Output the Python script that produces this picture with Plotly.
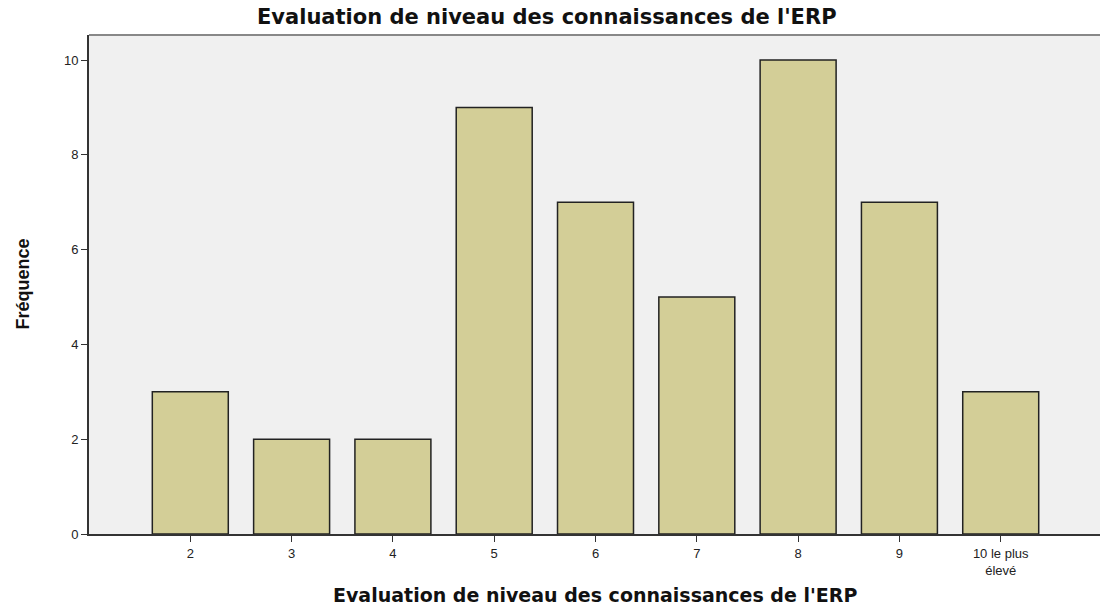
import plotly.graph_objects as go

categories = ["2", "3", "4", "5", "6", "7", "8", "9", "10 le plus<br>élevé"]
frequencies = [3, 2, 2, 9, 7, 5, 10, 7, 3]
y_ticks = [0, 2, 4, 6, 8, 10]

title_text = "Evaluation de niveau des connaissances de l'ERP"

fig = go.Figure(
    go.Bar(
        x=categories,
        y=frequencies,
        width=0.75,
        marker=dict(color="#D3CE97", line=dict(color="#222222", width=1.5)),
    )
)

fig.update_layout(
    width=1100,
    height=606,
    margin=dict(l=89, r=0, t=35, b=72, autoexpand=False),
    paper_bgcolor="white",
    plot_bgcolor="#F0F0F0",
    showlegend=False,
    font=dict(family="Liberation Sans, Arial, sans-serif", color="#222222"),
)

fig.update_xaxes(
    range=[-1.0, 8.98],
    automargin=False,
    showline=True,
    linecolor="#333333",
    linewidth=2,
    ticks="outside",
    ticklen=6,
    tickcolor="#333333",
    tickfont=dict(size=13),
    showgrid=False,
)

fig.update_yaxes(
    range=[0, 10.53],
    automargin=False,
    tickvals=y_ticks,
    showline=True,
    linecolor="#333333",
    linewidth=2,
    ticks="outside",
    ticklen=6,
    tickcolor="#333333",
    tickfont=dict(size=13),
    showgrid=False,
    zeroline=False,
)

# gray border along the top of the plot area
fig.add_shape(
    type="line", xref="paper", yref="paper",
    x0=0, x1=1, y0=1, y1=1,
    line=dict(color="#888888", width=2),
)

# chart title, x axis title and y axis title as annotations (pixel placement)
fig.add_annotation(
    text="<b>" + title_text + "</b>",
    xref="paper", yref="paper", x=0.4535, y=1.0, yshift=18,
    xanchor="center", yanchor="middle", showarrow=False,
    font=dict(family="DejaVu Sans, sans-serif", size=21, color="#111111"),
)
fig.add_annotation(
    text="<b>" + title_text + "</b>",
    xref="paper", yref="paper", x=0.5005, y=0.0, yshift=-61,
    xanchor="center", yanchor="middle", showarrow=False,
    font=dict(family="DejaVu Sans, sans-serif", size=19, color="#111111"),
)
fig.add_annotation(
    text="<b>Fréquence</b>",
    xref="paper", yref="paper", x=0.0, xshift=-67, y=0.5,
    xanchor="center", yanchor="middle", showarrow=False, textangle=-90,
    font=dict(family="Liberation Sans Narrow, Liberation Sans, sans-serif", size=18, color="#111111"),
)

# page body has a default 8px margin; drop it so the figure sits at the corner
fig.write_html(
    "out.html",
    config={"displayModeBar": False},
    post_script="document.body.style.margin='0';",
)
